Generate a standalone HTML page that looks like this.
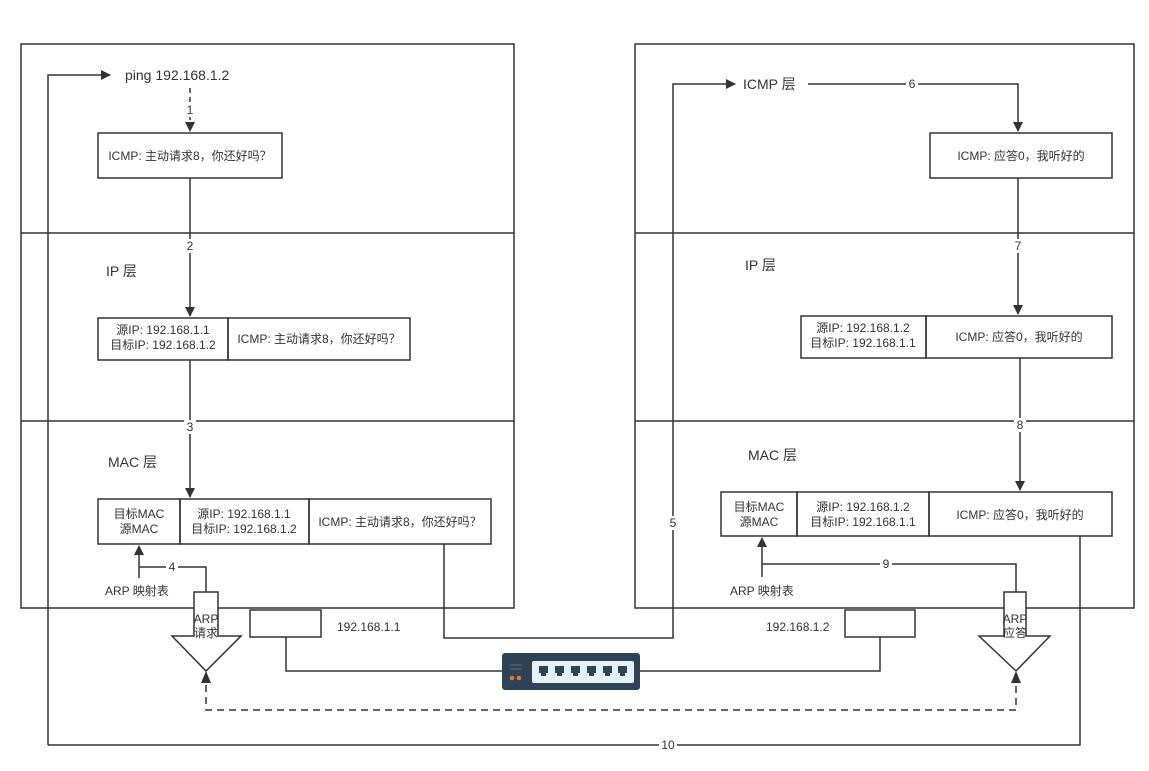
<!DOCTYPE html>
<html><head><meta charset="utf-8"><style>
html,body{margin:0;padding:0;background:#fff;}
svg{display:block;}
text{font-family:"Liberation Sans","Noto Sans CJK SC",sans-serif;fill:#333;}
</style></head><body>
<svg width="1149" height="771" viewBox="0 0 1149 771" xmlns="http://www.w3.org/2000/svg">
<defs>
<marker id="a" markerWidth="10" markerHeight="10" refX="9" refY="5" orient="auto" markerUnits="userSpaceOnUse">
<path d="M0,0 L10,5 L0,10 z" fill="#333"/></marker>
</defs>
<g fill="none" stroke="#333" stroke-width="1.5">
<rect x="21" y="44" width="493" height="564"/>
<line x1="21" y1="233" x2="514" y2="233"/>
<line x1="21" y1="421" x2="514" y2="421"/>
<rect x="635" y="44" width="499" height="564"/>
<line x1="635" y1="233" x2="1134" y2="233"/>
<line x1="635" y1="421" x2="1134" y2="421"/>

<!-- left boxes -->
<rect x="98" y="133" width="184" height="45"/>
<rect x="98" y="318" width="130" height="42"/>
<rect x="228" y="318" width="182" height="42"/>
<rect x="98" y="499" width="82" height="45"/>
<rect x="180" y="499" width="129" height="45"/>
<rect x="309" y="499" width="182" height="45"/>
<!-- right boxes -->
<rect x="930" y="133" width="182" height="45"/>
<rect x="801" y="316" width="125" height="42"/>
<rect x="926" y="316" width="186" height="42"/>
<rect x="721" y="492" width="76" height="44"/>
<rect x="797" y="492" width="132" height="44"/>
<rect x="929" y="492" width="183" height="44"/>

<!-- ip boxes -->
<rect x="250" y="610" width="71" height="27"/>
<rect x="845" y="610" width="70" height="27"/>

<!-- left flow -->
<polyline points="48,745 48,75 110,75" marker-end="url(#a)"/>
<line x1="190" y1="88" x2="190" y2="131" stroke-dasharray="5,4" marker-end="url(#a)"/>
<line x1="190" y1="178" x2="190" y2="316" marker-end="url(#a)"/>
<line x1="190" y1="360" x2="190" y2="497" marker-end="url(#a)"/>
<line x1="139" y1="578" x2="139" y2="546" marker-end="url(#a)"/>
<polyline points="139,567 206,567 206,592"/>
<polyline points="444,544 444,638 673,638 673,84 735,84" marker-end="url(#a)"/>
<polyline points="286,637 286,671 502,671"/>
<polyline points="640,671 880,671 880,637"/>
<polyline points="1080,536 1080,745 48,745"/>
<polyline points="206,673 206,710 1016,710 1016,673" stroke-dasharray="7,5"/>
<!-- right flow -->
<polyline points="808,84 1018,84 1018,131" marker-end="url(#a)"/>
<line x1="1018" y1="178" x2="1018" y2="314" marker-end="url(#a)"/>
<line x1="1020" y1="358" x2="1020" y2="490" marker-end="url(#a)"/>
<line x1="762" y1="577" x2="762" y2="538" marker-end="url(#a)"/>
<polyline points="762,564 1016,564 1016,592"/>
<!-- ARP arrows -->
<path d="M194,592 H218 V636 H241 L206,671 L172,636 H194 Z" fill="#fff"/>
<path d="M1004,592 H1026 V636 H1050 L1016,671 L979,636 H1004 Z" fill="#fff"/>
</g>
<!-- dashed arrowheads -->
<path d="M201,683 L206,671 L211,683 z" fill="#333"/>
<path d="M1011,683 L1016,671 L1021,683 z" fill="#333"/>

<!-- switch -->
<rect x="502" y="653" width="138" height="37" rx="3" fill="#2e4356"/>
<rect x="532" y="661" width="102" height="22" rx="2" fill="#e3f1fb"/>
<g fill="#2e4356">
<path d="M539,666h9v7h-2v3h-5v-3h-2z"/><path d="M555,666h9v7h-2v3h-5v-3h-2z"/>
<path d="M571,666h9v7h-2v3h-5v-3h-2z"/><path d="M587,666h9v7h-2v3h-5v-3h-2z"/>
<path d="M603,666h9v7h-2v3h-5v-3h-2z"/><path d="M618,666h9v7h-2v3h-5v-3h-2z"/>
</g>
<line x1="510" y1="665" x2="522" y2="665" stroke="#5c6f80"/>
<line x1="510" y1="669" x2="522" y2="669" stroke="#5c6f80"/>
<circle cx="512" cy="678" r="2.3" fill="#e8743b"/><circle cx="519" cy="678" r="2.3" fill="#e8743b"/>

<!-- label backgrounds -->
<g fill="#fff">
<rect x="184" y="103" width="12" height="14"/><rect x="184" y="239" width="12" height="14"/>
<rect x="184" y="420" width="12" height="14"/><rect x="166" y="561" width="12" height="12"/>
<rect x="667" y="516" width="12" height="14"/><rect x="906" y="78" width="12" height="12"/>
<rect x="1012" y="239" width="12" height="14"/><rect x="1014" y="418" width="12" height="14"/>
<rect x="880" y="558" width="12" height="12"/><rect x="659" y="739" width="18" height="12"/>
</g>
<g font-size="12" text-anchor="middle">
<text x="190" y="114">1</text><text x="190" y="250">2</text><text x="190" y="431">3</text>
<text x="172" y="571">4</text><text x="673" y="527">5</text><text x="912" y="88">6</text>
<text x="1018" y="250">7</text><text x="1020" y="429">8</text><text x="886" y="568">9</text>
<text x="668" y="749">10</text>
</g>

<g font-size="12">
<text x="125" y="80" font-size="14">ping 192.168.1.2</text>
<text x="743" y="89" font-size="14">ICMP 层</text>
<text x="106" y="276" font-size="14">IP 层</text>
<text x="745" y="270" font-size="14">IP 层</text>
<text x="108" y="467" font-size="14">MAC 层</text>
<text x="748" y="460" font-size="14">MAC 层</text>
<text x="105" y="595">ARP 映射表</text>
<text x="730" y="595">ARP 映射表</text>
<text x="337" y="631">192.168.1.1</text>
<text x="766" y="631">192.168.1.2</text>
</g>
<g font-size="12" text-anchor="middle">
<text x="190" y="160">ICMP: 主动请求8，你还好吗？</text>
<text x="163" y="334">源IP: 192.168.1.1</text>
<text x="163" y="349">目标IP: 192.168.1.2</text>
<text x="319" y="343">ICMP: 主动请求8，你还好吗？</text>
<text x="139" y="518">目标MAC</text><text x="139" y="533">源MAC</text>
<text x="244" y="518">源IP: 192.168.1.1</text>
<text x="244" y="533">目标IP: 192.168.1.2</text>
<text x="400" y="526">ICMP: 主动请求8，你还好吗？</text>
<text x="1021" y="160">ICMP: 应答0，我听好的</text>
<text x="863" y="332">源IP: 192.168.1.2</text>
<text x="863" y="347">目标IP: 192.168.1.1</text>
<text x="1019" y="341">ICMP: 应答0，我听好的</text>
<text x="759" y="511">目标MAC</text><text x="759" y="526">源MAC</text>
<text x="863" y="511">源IP: 192.168.1.2</text>
<text x="863" y="526">目标IP: 192.168.1.1</text>
<text x="1020" y="519">ICMP: 应答0，我听好的</text>
<text x="206" y="623">ARP</text><text x="206" y="637">请求</text>
<text x="1015" y="623">ARP</text><text x="1015" y="637">应答</text>
</g>
</svg>
</body></html>
